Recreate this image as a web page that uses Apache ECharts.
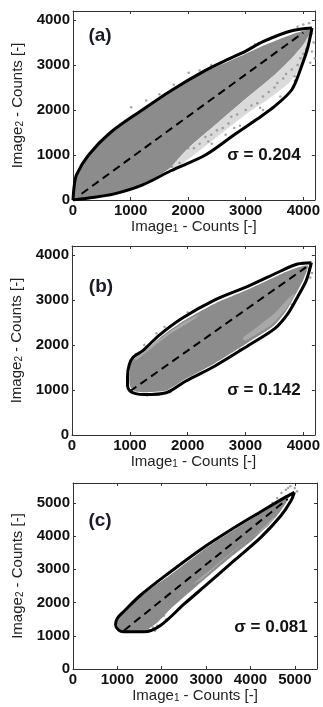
<!DOCTYPE html>
<html>
<head>
<meta charset="utf-8">
<style>
  html, body {margin: 0; padding: 0; background: #fff;}
  #chart {width: 323px; height: 707px;}
</style>
<script src="https://cdn.jsdelivr.net/npm/echarts@6/dist/echarts.min.js"></script>
</head>
<body>
<div id="chart"></div>
<script>
// axis ranges and tick labels per panel
const xMax = [4200, 4200, 5500];
const yMax = [4200, 4200, 5600];
const xTicks = [[0, 1000, 2000, 3000, 4000], [0, 1000, 2000, 3000, 4000], [0, 1000, 2000, 3000, 4000, 5000]];
const yTicks = [[0, 1000, 2000, 3000, 4000], [0, 1000, 2000, 3000, 4000], [0, 1000, 2000, 3000, 4000, 5000]];
const panelNames = ['(a)', '(b)', '(c)'];
const sigmas = ['0.204', '0.142', '0.081'];

// (a) envelope, dense cloud, sparse speckle zone, loose points
const envUpperA = [[0, 0], [20, 300], [60, 560], [270, 1000], [650, 1500], [1200, 2000], [1700, 2430], [2300, 2880],
  [2700, 3130], [3000, 3310], [3300, 3520], [3800, 3760], [4150, 3820]];
const envLowerA = [[0, 0], [300, 50], [700, 130], [1200, 330], [1700, 650], [2300, 1000], [2800, 1450], [3200, 1800],
  [3500, 2080], [3800, 2450], [3950, 2900], [4080, 3400], [4150, 3820]];
const cloudA = [[0, 0], [20, 300], [60, 560], [270, 1000], [650, 1500], [1200, 2000], [1700, 2420], [2300, 2850],
  [2700, 3080], [3000, 3250], [3300, 3430], [3800, 3680], [4130, 3800], [4120, 3700], [4000, 3450], [3800, 3150],
  [3500, 2780], [3000, 2250], [2500, 1700], [2000, 1150], [1700, 720], [1200, 340], [700, 135], [300, 50]];
const sparseA = [[1700, 720], [2000, 1150], [2500, 1700], [3000, 2250], [3500, 2780], [3800, 3150], [4000, 3450],
  [4120, 3700], [4100, 3300], [3950, 2950], [3750, 2600], [3400, 2250], [3000, 1900], [2500, 1400], [2100, 1000], [1800, 720]];
const strayA = [[1010, 2060], [1270, 2210], [1500, 2350], [1750, 2560], [2010, 2830], [2200, 2880], [2400, 3000],
  [2640, 3090], [2900, 3250], [3160, 3460], [3400, 3560], [3650, 3700], [3900, 3850], [4000, 3900], [4100, 3930],
  [4150, 3700], [4180, 3500], [4150, 3300], [4200, 3150], [4120, 3050], [1720, 740], [1850, 820], [2410, 1250],
  [2650, 1450], [2900, 1650], [3300, 2000], [3600, 2300], [3850, 2650], [2000, 1150], [2100, 1150], [2200, 1250],
  [2300, 1400], [2400, 1450], [2500, 1550], [2600, 1600], [2700, 1700], [2750, 1850], [2850, 1900], [3000, 2000],
  [3100, 2100], [3200, 2150], [3300, 2300], [3400, 2400], [3500, 2500], [3550, 2600], [3650, 2700], [3700, 2800],
  [3800, 2900], [3900, 3000], [3950, 3150], [4000, 3250], [4050, 3350], [3850, 2750], [3250, 2050], [2800, 1600],
  [2350, 1300]];
const diagA = [[150, 140], [4000, 3720]];

// (b)
const envB = [[4140, 3830], [3900, 3800], [3620, 3650], [3050, 3310], [2480, 3010], [1910, 2600], [1510, 2220],
  [1230, 1880], [1060, 1730], [990, 1560], [960, 1300], [960, 1100], [1000, 980], [1100, 920], [1250, 900],
  [1630, 940], [1970, 1200], [2480, 1540], [3050, 1990], [3510, 2370], [3740, 2710], [3910, 3090], [4050, 3430], [4140, 3830]];
const cloudB = [[4080, 3760], [3900, 3720], [3620, 3580], [3050, 3240], [2480, 2930], [1910, 2520], [1510, 2150],
  [1230, 1820], [1070, 1680], [1010, 1540], [990, 1300], [1000, 1100], [1040, 1010], [1120, 960], [1250, 950],
  [1630, 990], [1970, 1250], [2480, 1600], [3050, 2060], [3480, 2420], [3700, 2750], [3860, 3110], [4000, 3450]];
const sparseB1 = [[1100, 1700], [1500, 2120], [1900, 2480], [2200, 2680], [2100, 2560], [1700, 2250], [1300, 1850], [1100, 1650]];
const sparseB2 = [[3000, 2100], [3450, 2450], [3700, 2800], [3860, 3150], [3750, 3050], [3500, 2700], [3200, 2400], [2950, 2150]];
const strayB = [[1460, 2260], [1600, 2400], [1750, 2450], [2000, 2720], [1250, 2000], [1100, 1800], [1300, 880],
  [1500, 900], [1700, 950], [3700, 3700], [4000, 3800], [4100, 3700], [4150, 3600], [4120, 3500], [3950, 3200],
  [3800, 2900], [2200, 1350], [2900, 1900]];
const diagB = [[1000, 970], [4050, 3730]];

// (c)
const envC = [[4990, 5320], [4770, 5160], [4240, 4740], [3630, 4250], [2880, 3600], [2130, 2860], [1520, 2220],
  [1150, 1740], [1000, 1530], [960, 1330], [1030, 1170], [1140, 1120], [1600, 1120], [1980, 1320], [2500, 1950],
  [3030, 2560], [3630, 3260], [4240, 3970], [4690, 4620], [4920, 5080], [4990, 5320]];
const cloudC = [[4900, 5290], [4660, 5030], [4060, 4550], [3310, 3920], [2940, 3580], [2190, 2830], [1510, 2190],
  [1120, 1720], [990, 1400], [1050, 1170], [1200, 1130], [1600, 1140], [1900, 1400], [2190, 1800], [2790, 2500],
  [3540, 3350], [4060, 3900], [4590, 4600], [4820, 5040]];
const sparseC = [[2700, 2550], [3200, 3100], [3700, 3650], [4200, 4150], [4550, 4600], [4400, 4300], [3900, 3850],
  [3400, 3300], [2900, 2700]];
const strayC = [[1900, 2650], [2000, 2720], [2100, 2680], [1950, 2550], [1700, 1200], [1800, 1250], [1900, 1300],
  [2000, 1350], [2100, 1500], [2050, 1600], [1850, 1150], [4500, 5000], [4600, 5150], [4700, 5300], [4800, 5400],
  [4850, 5450], [4900, 5500], [5000, 5450], [5050, 5350], [4950, 5250], [4750, 5000], [4400, 4700]];
const diagC = [[1150, 1160], [4840, 5120]];

const panels = [
  {env: [envUpperA, envLowerA], cloud: cloudA, sparse: [sparseA], stray: strayA, diag: diagA},
  {env: [envB], cloud: cloudB, sparse: [sparseB1, sparseB2], stray: strayB, diag: diagB},
  {env: [envC], cloud: cloudC, sparse: [sparseC], stray: strayC, diag: diagC}
];

const grids = [
  {left: 73, top: 11, width: 244, height: 189},
  {left: 72, top: 246, width: 245, height: 189},
  {left: 73, top: 483, width: 244, height: 186}
];
const labelPos = [[100, 36], [101, 287], [100, 521]];
const sigmaPos = [[264, 155], [264, 390], [271, 627]];

const ink = '#111';
const rich = {
  t: {fontSize: 15, color: '#222', fontFamily: 'Liberation Sans'},
  s: {fontSize: 10, color: '#222', fontFamily: 'Liberation Sans', verticalAlign: 'bottom', padding: [6, 0, 0, 0]}
};

function tickFmt(list) {
  return v => (list.indexOf(v) >= 0 ? String(v) : '');
}

function area(points, color, g) {
  return {
    type: 'custom', xAxisIndex: g, yAxisIndex: g, silent: true, z: 1,
    data: [[0, 0]],
    renderItem: (params, api) => ({
      type: 'polygon',
      shape: {points: points.map(p => api.coord(p)), smooth: 0.2},
      style: {fill: color}
    })
  };
}

const xAxis = [], yAxis = [], series = [];
grids.forEach((gr, g) => {
  const base = {
    type: 'value', gridIndex: g, min: 0, interval: 1000,
    axisLine: {onZero: false, lineStyle: {color: '#333', width: 1}},
    axisTick: {inside: true, length: 3, lineStyle: {color: '#333'}},
    splitLine: {show: false}
  };
  xAxis.push({
    ...base, max: xMax[g], position: 'bottom',
    name: '{t|Image}{s|1}{t| - Counts [-]}', nameLocation: 'middle', nameGap: 10,
    nameTextStyle: {rich},
    axisLabel: {fontSize: 15, fontWeight: 'bold', color: ink, margin: 3, fontFamily: 'Liberation Sans', formatter: tickFmt(xTicks[g])}
  });
  yAxis.push({
    ...base, max: yMax[g], position: 'left',
    name: '{t|Image}{s|2}{t| - Counts [-]}', nameLocation: 'middle', nameGap: 46,
    nameTextStyle: {rich},
    axisLabel: {fontSize: 15, fontWeight: 'bold', color: ink, margin: 3, fontFamily: 'Liberation Sans', formatter: tickFmt(yTicks[g])}
  });
});
// mirrored ticks on top and right
grids.forEach((gr, g) => {
  const mirror = {
    type: 'value', gridIndex: g, min: 0, interval: 1000,
    axisLine: {onZero: false, lineStyle: {color: '#333', width: 1}},
    axisTick: {inside: true, length: 3, lineStyle: {color: '#333'}},
    axisLabel: {show: false},
    splitLine: {show: false}
  };
  xAxis.push({...mirror, max: xMax[g], position: 'top'});
  yAxis.push({...mirror, max: yMax[g], position: 'right'});
});

panels.forEach((p, g) => {
  series.push(area(p.cloud, '#8c8c8c', g));
  p.sparse.forEach(s => series.push(area(s, g === 0 ? '#dadada' : '#a8a8a8', g)));
  series.push({
    type: 'scatter', xAxisIndex: g, yAxisIndex: g, data: p.stray, symbolSize: 2.5,
    itemStyle: {color: '#8c8c8c'}, silent: true, z: 2
  });
  p.env.forEach(line => series.push({
    type: 'line', xAxisIndex: g, yAxisIndex: g, data: line, smooth: 0.3, symbol: 'none',
    lineStyle: {color: '#000', width: 3}, silent: true, z: 4
  }));
  series.push({
    type: 'line', xAxisIndex: g, yAxisIndex: g, data: p.diag, symbol: 'none',
    lineStyle: {color: '#000', width: 2, type: [8, 5]}, silent: true, z: 5
  });
});

const graphic = [];
panelNames.forEach((name, g) => {
  graphic.push({
    type: 'text', x: labelPos[g][0], y: labelPos[g][1], z: 10,
    style: {text: name, fill: '#1a1a2a', font: 'bold 19px "Liberation Sans"', align: 'center', verticalAlign: 'middle'}
  });
  graphic.push({
    type: 'text', x: sigmaPos[g][0], y: sigmaPos[g][1], z: 10,
    style: {text: 'σ = ' + sigmas[g], fill: '#111', font: 'bold 17px "Liberation Sans"', align: 'center', verticalAlign: 'middle'}
  });
});

const myChart = echarts.init(document.getElementById('chart'));
myChart.setOption({
  animation: false,
  grid: grids,
  xAxis,
  yAxis,
  series,
  graphic
});
</script>
</body>
</html>
